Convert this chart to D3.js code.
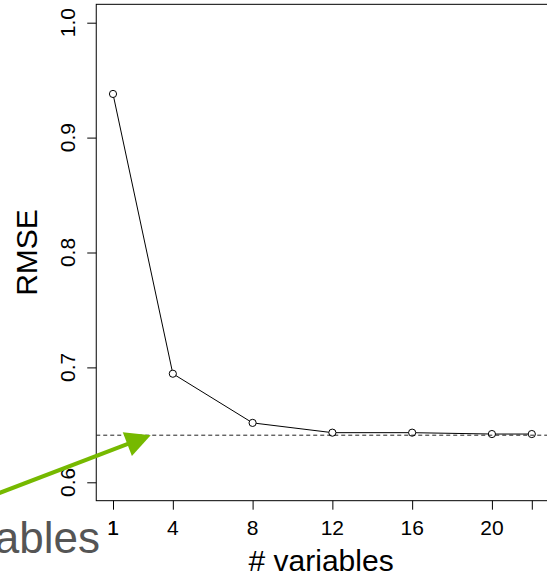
<!DOCTYPE html>
<html>
<head>
<meta charset="utf-8">
<script src="https://cdn.jsdelivr.net/npm/d3@7"></script>
<style>
  html, body { margin: 0; padding: 0; background: #fff; overflow: hidden; }
  svg { display: block; font-family: "Liberation Sans", Arial, Helvetica, sans-serif; }
</style>
</head>
<body>
<svg id="chart" width="547" height="577"></svg>
<script>
// Cross-validated RMSE by number of variables kept
const nVars = [1, 4, 8, 12, 16, 20, 22];
const rmse = [0.938, 0.6945, 0.6517, 0.6432, 0.6432, 0.642, 0.642];
const baseline = 0.641;           // dashed reference level
const xTicks = [1, 4, 8, 12, 16, 20, 22];
const xTickLabels = ["1", "4", "8", "12", "16", "20", ""];
const yTicks = [0.6, 0.7, 0.8, 0.9, 1.0];
const yTickLabels = ["0.6", "0.7", "0.8", "0.9", "1.0"];

const svg = d3.select("#chart");

const x = d3.scaleLinear().domain([1, 22]).range([113, 531.8]);
const y = d3.scaleLinear().domain([0.6, 1.0]).range([482.3, 22.7]);

// plot box with 4% padding around the data range
const xPad = (22 - 1) * 0.04, yPad = (1.0 - 0.6) * 0.04;
const bx0 = x(1 - xPad), bx1 = x(22 + xPad);
const by0 = y(1.0 + yPad), by1 = y(0.6 - yPad);

svg.append("rect")
  .attr("x", bx0).attr("y", by0)
  .attr("width", bx1 - bx0).attr("height", by1 - by0)
  .attr("fill", "none").attr("stroke", "#000").attr("stroke-width", 1);

// y axis (ticks on the left edge of the box)
const yAxis = d3.axisLeft(y).tickValues(yTicks)
  .tickFormat((d, i) => yTickLabels[i]).tickSize(9).tickPadding(0);
const gy = svg.append("g").attr("transform", `translate(${bx0},0)`).call(yAxis);
gy.select(".domain").remove();
gy.selectAll(".tick line").attr("stroke", "#000");
gy.selectAll(".tick text").remove();
yTicks.forEach((v, i) => {
  svg.append("text")
    .attr("transform", `translate(75,${y(v)}) rotate(-90)`)
    .attr("text-anchor", "middle")
    .attr("font-size", 21)
    .attr("fill", "#000")
    .text(yTickLabels[i]);
});

// x axis (ticks below the bottom edge of the box)
const xAxis = d3.axisBottom(x).tickValues(xTicks)
  .tickFormat((d, i) => xTickLabels[i]).tickSize(9).tickPadding(0);
const gx = svg.append("g").attr("transform", `translate(0,${by1})`).call(xAxis);
gx.select(".domain").remove();
gx.selectAll(".tick line").attr("stroke", "#000");
gx.selectAll(".tick text").remove();
xTicks.forEach((v, i) => {
  svg.append("text")
    .attr("x", x(v)).attr("y", 535)
    .attr("text-anchor", "middle")
    .attr("font-size", 21)
    .attr("fill", "#000")
    .text(xTickLabels[i]);
});

// axis titles
svg.append("text")
  .attr("transform", `translate(37,${(by0 + by1) / 2}) rotate(-90)`)
  .attr("text-anchor", "middle")
  .attr("font-size", 30)
  .text("RMSE");
svg.append("text")
  .attr("x", (bx0 + 548) / 2 - 1).attr("y", 571)
  .attr("text-anchor", "middle")
  .attr("font-size", 30)
  .text("# variables");

// dashed reference line
svg.append("line")
  .attr("x1", bx0).attr("x2", bx1)
  .attr("y1", y(baseline)).attr("y2", y(baseline))
  .attr("stroke", "#222").attr("stroke-width", 1)
  .attr("stroke-dasharray", "4,3");

// line segments with gaps around the points
const r = 3.6;
const pts = nVars.map((v, i) => [x(v), y(rmse[i])]);
for (let i = 0; i < pts.length - 1; i++) {
  const [x0, y0] = pts[i], [x1, y1] = pts[i + 1];
  const len = Math.hypot(x1 - x0, y1 - y0);
  if (len <= 2 * r) continue;
  const ux = (x1 - x0) / len, uy = (y1 - y0) / len;
  svg.append("line")
    .attr("x1", x0 + ux * r).attr("y1", y0 + uy * r)
    .attr("x2", x1 - ux * r).attr("y2", y1 - uy * r)
    .attr("stroke", "#000").attr("stroke-width", 1);
}
svg.selectAll("circle.pt").data(pts).enter().append("circle")
  .attr("class", "pt")
  .attr("cx", d => d[0]).attr("cy", d => d[1]).attr("r", r)
  .attr("fill", "none").attr("stroke", "#000").attr("stroke-width", 1);

// callout text partly outside the frame
svg.append("text")
  .attr("x", 100).attr("y", 553)
  .attr("text-anchor", "end")
  .attr("font-size", 44)
  .attr("fill", "#555")
  .text("variables");
// redraw tick label "1" above the callout text
svg.append("text")
  .attr("x", x(1)).attr("y", 535)
  .attr("text-anchor", "middle")
  .attr("font-size", 21)
  .attr("fill", "#000")
  .text("1");

// green arrow pointing at the reference level
const green = "#76b900";
const tip = [x(2.89), y(baseline)];
const slope = -0.382;
const startX = -30, start = [startX, tip[1] + (startX - tip[0]) * slope];
const dx = tip[0] - start[0], dy = tip[1] - start[1];
const L = Math.hypot(dx, dy), ux = dx / L, uy = dy / L;
const headLen = 25, headHalf = 12.8;
const base = [tip[0] - ux * headLen, tip[1] - uy * headLen];
svg.append("line")
  .attr("x1", start[0]).attr("y1", start[1])
  .attr("x2", base[0] + ux * 2).attr("y2", base[1] + uy * 2)
  .attr("stroke", green).attr("stroke-width", 4);
svg.append("path")
  .attr("d", d3.line()([
    tip,
    [base[0] - uy * headHalf, base[1] + ux * headHalf],
    [base[0] + uy * headHalf, base[1] - ux * headHalf]
  ]) + "Z")
  .attr("fill", green);
</script>
</body>
</html>
